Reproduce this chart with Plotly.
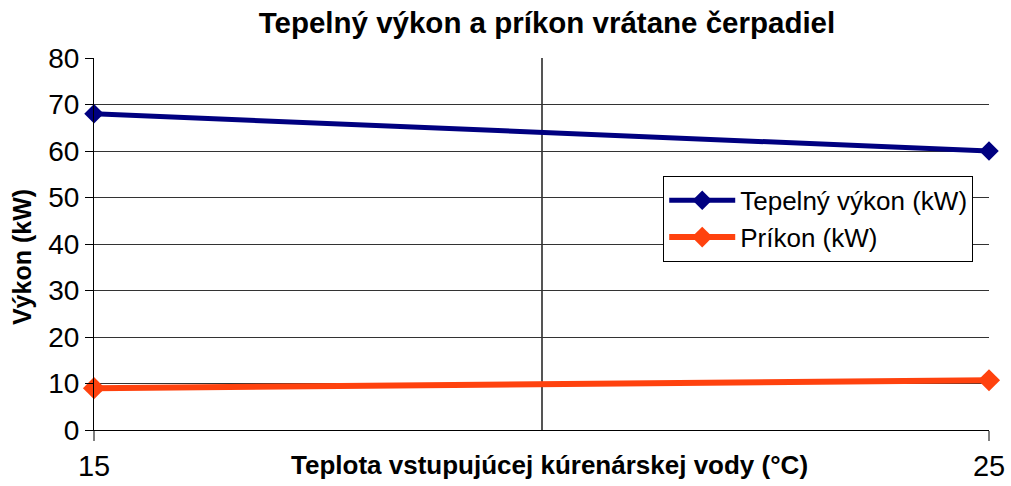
import plotly.graph_objects as go

x_temp = [15, 25]
tepelny_vykon = [68, 60]
prikon = [9.0, 10.7]
series_names = ["Tepelný výkon (kW)", "Príkon (kW)"]
title_text = "Tepelný výkon a príkon vrátane čerpadiel"
x_title = "Teplota vstupujúcej kúrenárskej vody (°C)"
y_title = "Výkon (kW)"
y_ticks = [0, 10, 20, 30, 40, 50, 60, 70, 80]

FONT = "Liberation Sans, Arial, sans-serif"

fig = go.Figure()
fig.add_trace(go.Scatter(
    x=x_temp, y=tepelny_vykon, name=series_names[0], mode="lines+markers",
    line=dict(color="#000080", width=5),
    marker=dict(symbol="diamond", size=15, color="#000080"),
    cliponaxis=False,
))
fig.add_trace(go.Scatter(
    x=x_temp, y=prikon, name=series_names[1], mode="lines+markers",
    line=dict(color="#FF420E", width=6),
    marker=dict(symbol="diamond", size=17, color="#FF420E"),
    cliponaxis=False,
))

fig.update_layout(
    width=1011, height=486,
    margin=dict(l=94, r=22, t=58, b=56),
    paper_bgcolor="white", plot_bgcolor="white",
    font=dict(family=FONT, color="black"),
    title=dict(text="<b>" + title_text + "</b>", x=0.541, xanchor="center",
               y=0.953, yanchor="middle", font=dict(size=29.5, family=FONT)),
    showlegend=True,
    legend=dict(x=0.636, y=0.683, xanchor="left", yanchor="top",
                bordercolor="black", borderwidth=1, bgcolor="white",
                font=dict(size=26, family=FONT), tracegroupgap=0,
                itemwidth=66),
    xaxis=dict(
        range=[15, 25], tickvals=[15, 25], ticktext=["15", "25"],
        automargin=False,
        showgrid=True, gridcolor="#808080", gridwidth=2,
        showline=True, linecolor="black", linewidth=1,
        ticks="outside", ticklen=10, tickcolor="#808080", tickwidth=2,
        tickfont=dict(size=29, family=FONT), zeroline=False,
        minor=dict(tickvals=[20], showgrid=True, gridcolor="#555555", gridwidth=2, ticks=""),
    ),
    yaxis=dict(
        range=[0, 80], tickvals=y_ticks,
        automargin=False,
        showgrid=True, gridcolor="#333333", gridwidth=1,
        showline=True, linecolor="black", linewidth=1,
        ticks="outside", ticklen=8, tickcolor="black",
        tickfont=dict(size=28, family=FONT), zeroline=False,
    ),
    annotations=[
        dict(text="<b>" + x_title + "</b>", xref="paper", yref="paper",
             x=0.509, y=-0.094, xanchor="center", yanchor="middle",
             showarrow=False, font=dict(size=26, family=FONT)),
        dict(text="<b>" + y_title + "</b>", xref="paper", yref="paper",
             x=-0.0804, y=0.465, xanchor="center", yanchor="middle",
             textangle=-90, showarrow=False, font=dict(size=25, family=FONT)),
    ],
)

fig.write_html("out.html", config={"displayModeBar": False},
               post_script="document.body.style.margin='0';")
